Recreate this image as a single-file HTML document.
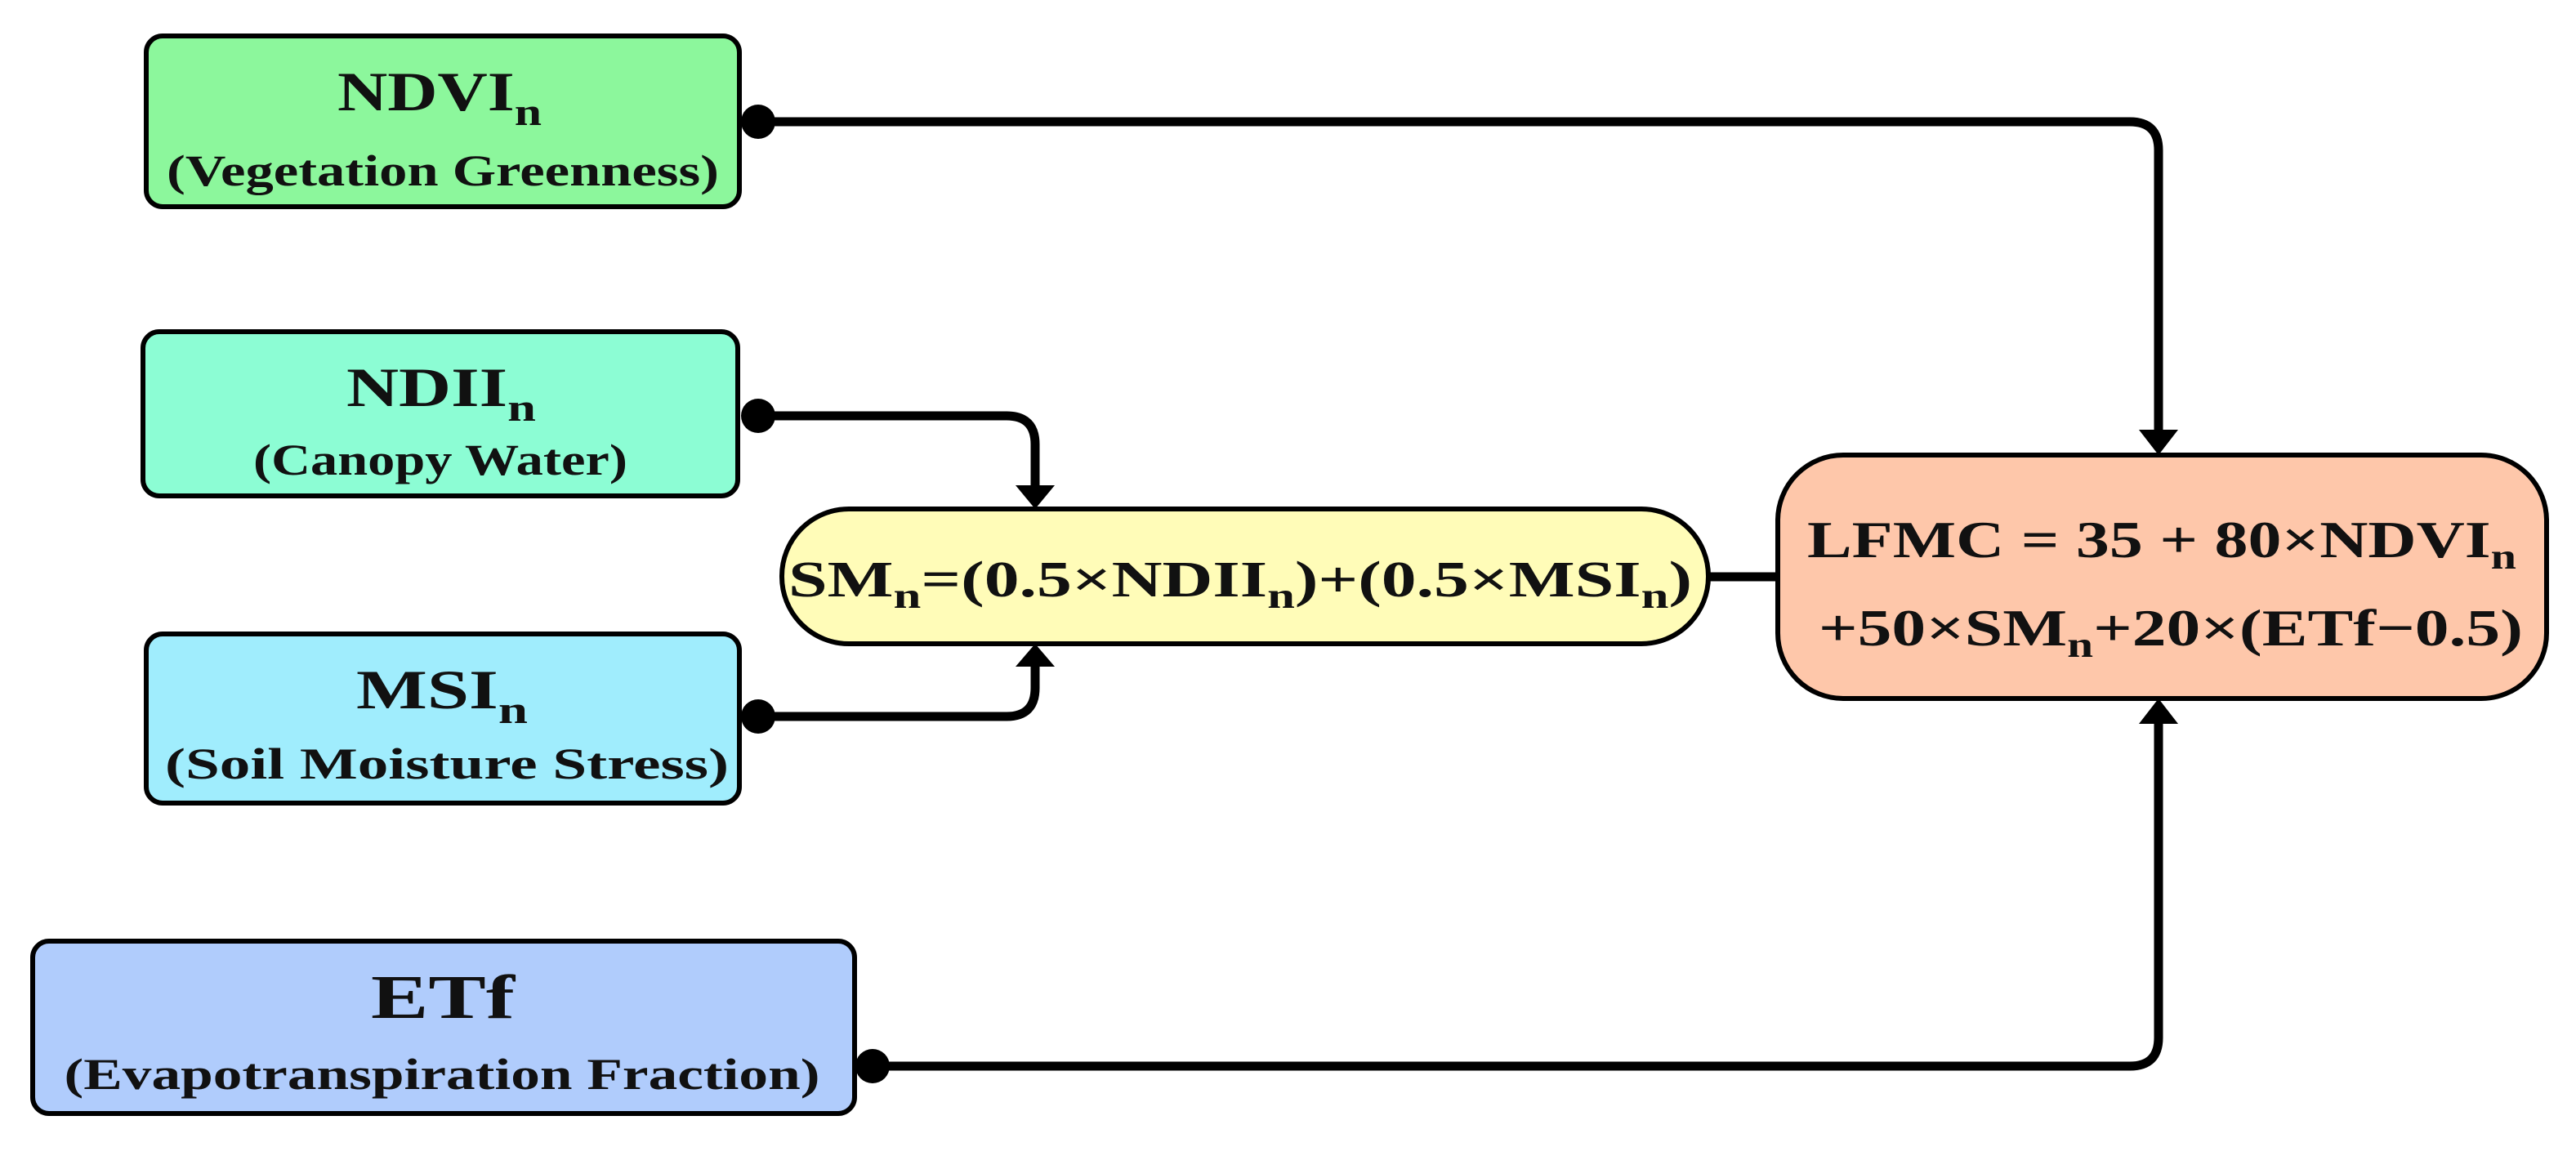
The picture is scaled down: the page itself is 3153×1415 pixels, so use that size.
<!DOCTYPE html>
<html><head><meta charset="utf-8"><style>
html,body{margin:0;padding:0;background:#fff;}
svg{display:block;}
text{font-family:"Liberation Serif","DejaVu Serif",serif;font-weight:bold;fill:#111;}
</style></head><body>
<svg width="3153" height="1415" viewBox="0 0 3153 1415" xmlns="http://www.w3.org/2000/svg">
<g fill="none" stroke="#000" stroke-width="11" stroke-linejoin="round">
<path d="M928 149 H2607 Q2642 149 2642 184 V530"/>
<path d="M928 509 H1232 Q1267 509 1267 544 V598"/>
<path d="M928 877 H1232 Q1267 877 1267 842 V812"/>
<path d="M1068 1305 H2607 Q2642 1305 2642 1270 V880"/>
<path d="M2091 706 H2176"/>
</g>
<g fill="#000">
<circle cx="928" cy="149" r="21"/>
<circle cx="928" cy="509" r="21"/>
<circle cx="928" cy="877" r="21"/>
<circle cx="1068" cy="1305" r="21"/>
<polygon points="2618,526 2666,526 2642,557"/>
<polygon points="1243,594 1291,594 1267,623"/>
<polygon points="1243,816 1291,816 1267,788"/>
<polygon points="2618,886 2666,886 2642,855"/>
</g>
<g stroke="#000" stroke-width="6">
<rect x="179" y="44" width="726" height="209" rx="20" fill="#8cf79c"/>
<rect x="175" y="406" width="728" height="201" rx="20" fill="#8cfdd4"/>
<rect x="179" y="776" width="726" height="207" rx="20" fill="#a0edfd"/>
<rect x="40" y="1152" width="1006" height="211" rx="20" fill="#b0ccfc"/>
<rect x="957" y="623" width="1134" height="165" rx="82" fill="#fffcb8"/>
<rect x="2176" y="557" width="941" height="298" rx="80" fill="#fec7aa"/>
</g>
<text x="413" y="135" font-size="68" textLength="250" lengthAdjust="spacingAndGlyphs">NDVI<tspan font-size="48" dy="18">n</tspan></text>
<text x="542" y="227" font-size="54" text-anchor="middle" textLength="676" lengthAdjust="spacingAndGlyphs">(Vegetation Greenness)</text>
<text x="424" y="497" font-size="68" textLength="232" lengthAdjust="spacingAndGlyphs">NDII<tspan font-size="48" dy="18">n</tspan></text>
<text x="539" y="581" font-size="54" text-anchor="middle" textLength="458" lengthAdjust="spacingAndGlyphs">(Canopy Water)</text>
<text x="436" y="867" font-size="68" textLength="210" lengthAdjust="spacingAndGlyphs">MSI<tspan font-size="48" dy="18">n</tspan></text>
<text x="547" y="953" font-size="54" text-anchor="middle" textLength="690" lengthAdjust="spacingAndGlyphs">(Soil Moisture Stress)</text>
<text x="542" y="1246" font-size="76" font-weight="bold" text-anchor="middle" textLength="176" lengthAdjust="spacingAndGlyphs">ETf</text>
<text x="541" y="1333" font-size="54" text-anchor="middle" textLength="925" lengthAdjust="spacingAndGlyphs">(Evapotranspiration Fraction)</text>
<text x="965" y="730" font-size="62" textLength="1106" lengthAdjust="spacingAndGlyphs">SM<tspan font-size="44" dy="14">n</tspan><tspan dy="-14">=(0.5×NDII</tspan><tspan font-size="44" dy="14">n</tspan><tspan dy="-14">)+(0.5×MSI</tspan><tspan font-size="44" dy="14">n</tspan><tspan dy="-14">)</tspan></text>
<text x="2212" y="682" font-size="64" textLength="868" lengthAdjust="spacingAndGlyphs">LFMC = 35 + 80×NDVI<tspan font-size="44" dy="14">n</tspan></text>
<text x="2226" y="790" font-size="64" textLength="862" lengthAdjust="spacingAndGlyphs">+50×SM<tspan font-size="44" dy="14">n</tspan><tspan dy="-14">+20×(ETf−0.5)</tspan></text>
</svg>
</body></html>
